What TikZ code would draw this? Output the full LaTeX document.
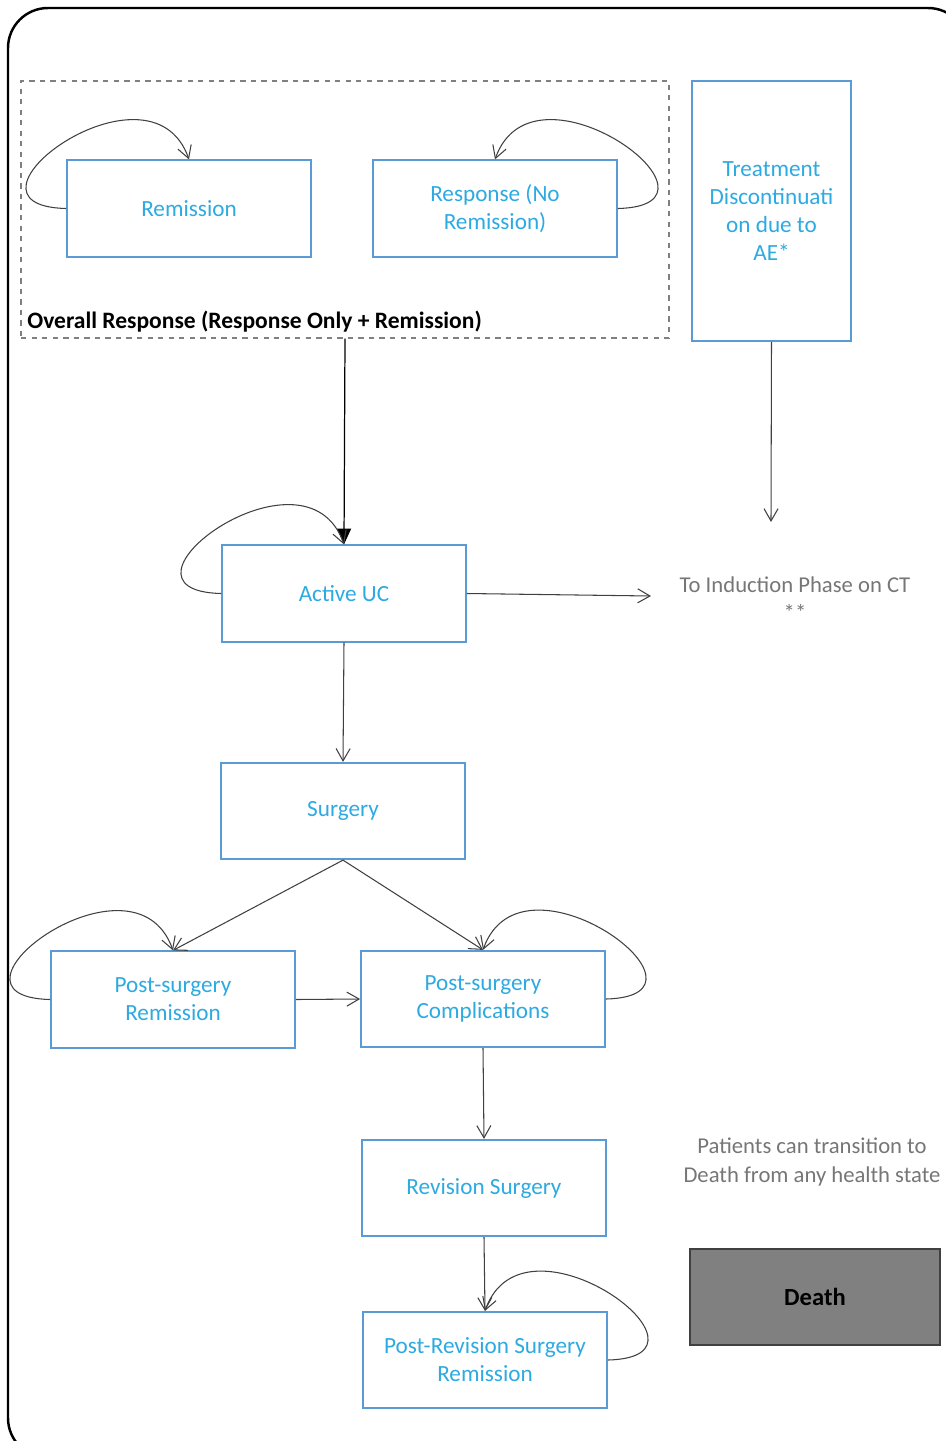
\documentclass[tikz,border=0pt]{standalone}
\usepackage{fontspec}
\setmainfont{Carlito}
\usetikzlibrary{arrows.meta, calc}
\definecolor{stateblue}{RGB}{91, 155, 213}
\definecolor{statetext}{RGB}{45, 170, 225}
\definecolor{notegray}{RGB}{118, 118, 118}
\definecolor{deathgray}{RGB}{128, 128, 128}

\tikzset{
    state/.style={draw=stateblue, line width=1pt, fill=white, text=statetext,
        minimum width=4.88cm, minimum height=1.93cm, align=center, inner sep=2pt,
        font=\fontsize{13.2}{16}\selectfont},
    link/.style={draw=black!75, line width=0.6pt, -{Straight Barb[length=7pt, width=8pt]}},
    note/.style={text=notegray, align=center, font=\fontsize{12.9}{16}\selectfont}
}

\begin{document}
\begin{tikzpicture}[x=0.02cm, y=-0.02cm]
    \useasboundingbox (0,0) rectangle (946,1441);
    \clip (0,0) rectangle (946,1441);

    % Frame
    \draw[line width=1.4pt, rounded corners=0.8cm] (8,8) rectangle (968,1458);

    % Overall response group
    \node[draw=deathgray, dashed, line width=0.8pt, minimum width=12.96cm, minimum height=5.14cm] (overall) at (345,209.5) {};
    \node[anchor=west, inner sep=0pt, font=\fontsize{13.4}{16}\selectfont\bfseries] (overalltxt) at (27,322) {Overall Response (Response Only + Remission)};

    % States
    \node[state] (rem) at (189,208.5) {Remission};
    \node[state] (resp) at (495,208.5) {Response (No\\Remission)};
    \node[state, minimum width=3.18cm, minimum height=5.2cm] (disc) at (771.5,211) {Treatment\\Discontinuati\\on due to\\AE*};
    \node[state] (active) at (344,593.5) {Active UC};
    \node[state] (surg) at (343,811) {Surgery};
    \node[state] (psrem) at (173,999.5) {Post-surgery\\Remission};
    \node[state] (pscomp) at (483,999) {Post-surgery\\Complications};
    \node[state] (revsurg) at (484,1188) {Revision Surgery};
    \node[state] (prevrem) at (485,1360) {Post-Revision Surgery\\Remission};
    \node[draw=black!75, line width=1pt, fill=deathgray, minimum width=5cm, minimum height=1.92cm,
        font=\fontsize{14}{16}\selectfont\bfseries] (death) at (815,1297) {Death};

    % Notes
    \node[note] (induct) at (795,599) {To Induction Phase on CT\\**};
    \node[note] (anystate) at (812,1162) {Patients can transition to\\Death from any health state};
    \coordinate (discend) at (771,522);
    \coordinate (inductend) at (651,596);

    % Transitions
    \draw[draw=black, line width=0.7pt, -{Triangle[length=9pt, width=8pt]}] (overall.south) -- (active.north);
    \draw[link] (disc.south) -- (discend);
    \draw[link] (active.east) -- (inductend);
    \draw[link] (active.south) -- (surg.north);
    \draw[link] (surg.south) -- (psrem.north);
    \draw[link] (surg.south) -- (pscomp.north);
    \draw[link] (psrem.east) -- (pscomp.west);
    \draw[link] (pscomp.south) -- (revsurg.north);
    \draw[link] (revsurg.south) -- (prevrem.north);

    % Self loops
    \draw[link] (rem.west) .. controls ($(rem.west)+(-127,-3)$) and ($(rem.north)+(-39,-110)$) .. (rem.north);
    \draw[link] (resp.east) .. controls ($(resp.east)+(127,-3)$) and ($(resp.north)+(39,-110)$) .. (resp.north);
    \draw[link] (active.west) .. controls ($(active.west)+(-127,-3)$) and ($(active.north)+(-39,-110)$) .. (active.north);
    \draw[link] (psrem.west) .. controls ($(psrem.west)+(-127,-3)$) and ($(psrem.north)+(-39,-110)$) .. (psrem.north);
    \draw[link] (pscomp.east) .. controls ($(pscomp.east)+(127,-3)$) and ($(pscomp.north)+(39,-110)$) .. (pscomp.north);
    \draw[link] (prevrem.east) .. controls ($(prevrem.east)+(127,-3)$) and ($(prevrem.north)+(39,-110)$) .. (prevrem.north);
\end{tikzpicture}
\end{document}
